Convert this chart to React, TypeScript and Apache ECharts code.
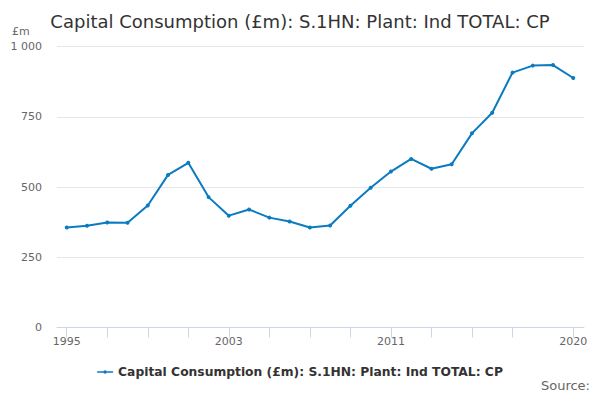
import React, { useEffect, useRef } from "react";
import * as echarts from "echarts";

const years = [1995,1996,1997,1998,1999,2000,2001,2002,2003,2004,2005,2006,2007,2008,2009,2010,2011,2012,2013,2014,2015,2016,2017,2018,2019,2020];
const values = [356,362,374,373,434,543,586,464,398,420,391,377,356,363,433,497,555,600,565,581,691,764,907,932,934,888];
const xTickYears = [1995,1997,1999,2001,2003,2005,2007,2009,2011,2013,2015,2017,2020];
const xLabelYears = [1995,2003,2011,2020];
const seriesName = "Capital Consumption (£m): S.1HN: Plant: Ind TOTAL: CP";
const titleText = "Capital Consumption (£m): S.1HN: Plant: Ind TOTAL: CP";

export default function App() {
  const ref = useRef<HTMLDivElement>(null);
  useEffect(() => {
    const chart = echarts.init(ref.current!, null, { renderer: "svg" });
    const font = "'DejaVu Sans', sans-serif";
    chart.setOption({
      animation: false,
      textStyle: { fontFamily: font },
      title: {
        text: titleText,
        left: "center",
        top: 7,
        textStyle: { fontFamily: font, fontSize: 18, fontWeight: "normal", color: "#333333" },
      },
      graphic: [
        { type: "text", left: 12, top: 26, style: { text: "£m", fontFamily: font, fontSize: 11, fill: "#666666" } },
        { type: "text", right: 10, top: 379, style: { text: "Source:", fontFamily: font, fontSize: 13, fill: "#666666" } },
      ],
      legend: {
        bottom: 17,
        left: "center",
        itemWidth: 16,
        itemHeight: 4,
        itemGap: 5,
        icon: "path://M0,1.25H16V2.75H0Z M8,0.2A1.8,1.8 0 1 1 8,3.8A1.8,1.8 0 1 1 8,0.2Z",
        textStyle: { fontFamily: font, fontSize: 12.3, fontWeight: "bold", color: "#333333" },
        data: [seriesName],
      },
      grid: { left: 57, right: 16, top: 46.5, bottom: 72.5 },
      xAxis: {
        type: "value",
        min: 1994.52,
        max: 2020.53,
        splitLine: { show: false },
        axisLine: { show: true, lineStyle: { color: "#ccd6eb" } },
        axisTick: { show: true, length: 10, customValues: xTickYears, lineStyle: { color: "#ccd6eb" } },
        axisLabel: {
          customValues: xLabelYears,
          color: "#666666",
          fontSize: 11,
          margin: 8,
          fontFamily: font,
          formatter: (v: number) => String(v),
        },
      },
      yAxis: {
        type: "value",
        min: 0,
        max: 1000,
        interval: 250,
        axisLine: { show: false },
        axisTick: { show: false },
        splitLine: { lineStyle: { color: "#e6e6e6" } },
        axisLabel: {
          color: "#666666",
          fontSize: 11,
          margin: 15,
          fontFamily: font,
          formatter: (v: number) => (v >= 1000 ? String(v).replace(/\B(?=(\d{3})+(?!\d))/g, " ") : String(v)),
        },
      },
      series: [
        {
          name: seriesName,
          type: "line",
          data: years.map((y, i) => [y, values[i]]),
          symbol: "circle",
          symbolSize: 4,
          itemStyle: { color: "#0b7bc1" },
          lineStyle: { color: "#0b7bc1", width: 2 },
        },
      ],
    });
    return () => chart.dispose();
  }, []);
  return <div ref={ref} style={{ width: 600, height: 400, margin: -8 }} />;
}
